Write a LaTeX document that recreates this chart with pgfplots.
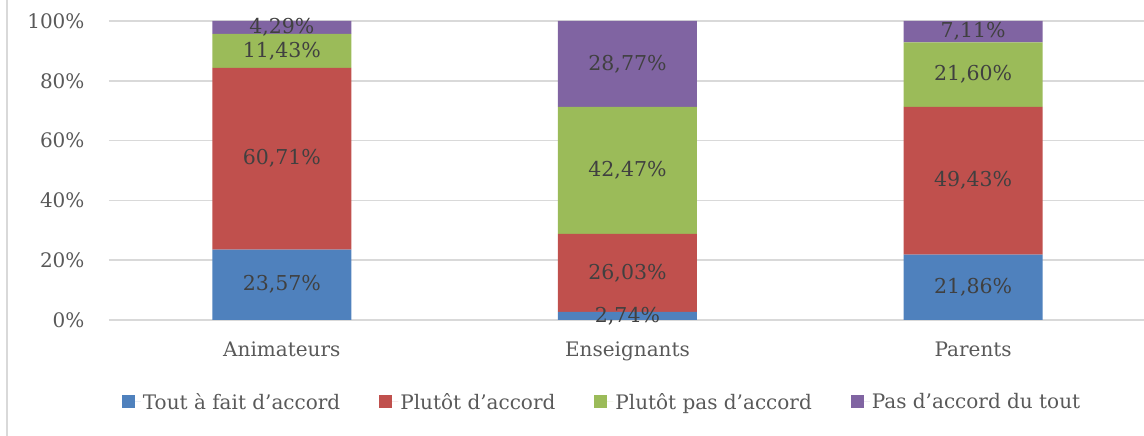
\documentclass[border=0pt]{standalone}
\usepackage{pgfplots}
\usepackage{pgfplotstable}
\pgfplotsset{compat=1.18}
\usepackage{fontspec}
\setmainfont{DejaVu Serif}
\definecolor{cblue}{HTML}{4F81BD}
\definecolor{cred}{HTML}{C0504D}
\definecolor{cgreen}{HTML}{9BBB59}
\definecolor{cpurple}{HTML}{8064A2}
\definecolor{gridgray}{HTML}{D9D9D9}
\definecolor{labelgray}{HTML}{595959}
\definecolor{datagray}{HTML}{404040}

% segment values (%), categories at x = 0,1,2
\pgfplotstableread{
x  v
0  23.57
1  2.74
2  21.86
}\tblue
\pgfplotstableread{
x  v
0  60.71
1  26.03
2  49.43
}\tred
\pgfplotstableread{
x  v
0  11.43
1  42.47
2  21.60
}\tgreen
\pgfplotstableread{
x  v
0  4.29
1  28.77
2  7.11
}\tpurple
% label positions (middle of each segment) and values
\pgfplotstableread{
x  y       v
0  11.785  23.57
0  53.925  60.71
0  89.995  11.43
0  97.855  4.29
1  1.37    2.74
1  15.755  26.03
1  50.005  42.47
1  85.625  28.77
2  10.93   21.86
2  46.575  49.43
2  82.09   21.60
2  96.445  7.11
}\tlabels

\begin{document}
\begin{tikzpicture}[x=1pt,y=1pt]
\path[use as bounding box] (0,0) rectangle (1144,436);
\draw[gridgray, line width=1.5pt] (7,0) -- (7,436);
\begin{axis}[
  at={(109pt,116pt)}, anchor=south west,
  scale only axis, width=1037pt, height=299pt,
  ybar stacked, bar width=139pt,
  xmin=-0.5, xmax=2.5, ymin=0, ymax=100,
  xtick={0,1,2}, xticklabels={Animateurs,Enseignants,Parents},
  ytick={0,20,40,60,80,100},
  yticklabels={0\%,20\%,40\%,60\%,80\%,100\%},
  ymajorgrids, grid style={gridgray, line width=1.5pt},
  axis line style={draw=none}, major tick length=0pt,
  tick label style={font=\fontsize{20}{22}\selectfont, text=labelgray},
  yticklabel style={xshift=-21pt},
  xticklabel style={yshift=-18pt},
  legend columns=4,
  legend cell align=left,
  legend style={draw=none, fill=none, at={(0.4755,-0.274)}, anchor=center,
    font=\fontsize{20}{22}\selectfont, text=labelgray,
    /tikz/every even column/.append style={column sep=37pt}},
  legend image code/.code={\fill[#1,draw=none] (0pt,-6.5pt) rectangle (13pt,6.5pt);
    \path (0pt,0pt) -- (19pt,0pt);},
]
\addplot[fill=cblue, draw=none] table[x=x,y=v] {\tblue};
\addlegendentry{Tout à fait d’accord}
\addplot[fill=cred, draw=none] table[x=x,y=v] {\tred};
\addlegendentry{Plutôt d’accord}
\addplot[fill=cgreen, draw=none] table[x=x,y=v] {\tgreen};
\addlegendentry{Plutôt pas d’accord}
\addplot[fill=cpurple, draw=none] table[x=x,y=v] {\tpurple};
\addlegendentry{Pas d’accord du tout}
\end{axis}
\begin{axis}[
  at={(109pt,116pt)}, anchor=south west,
  scale only axis, width=1037pt, height=299pt,
  xmin=-0.5, xmax=2.5, ymin=0, ymax=100,
  hide axis, clip=false,
]
\addplot[only marks, mark=*, mark size=0pt, mark options={draw=none, fill=none},
  point meta=explicit,
  nodes near coords={\pgfmathprintnumber[fixed, fixed zerofill, precision=2, use comma, assume math mode=true]{\pgfplotspointmeta}\%},
  every node near coord/.append style={anchor=center, font=\fontsize{20.5}{22}\selectfont, text=datagray, inner sep=0pt},
] table[x=x, y=y, meta=v] {\tlabels};
\end{axis}
\end{tikzpicture}
\end{document}
